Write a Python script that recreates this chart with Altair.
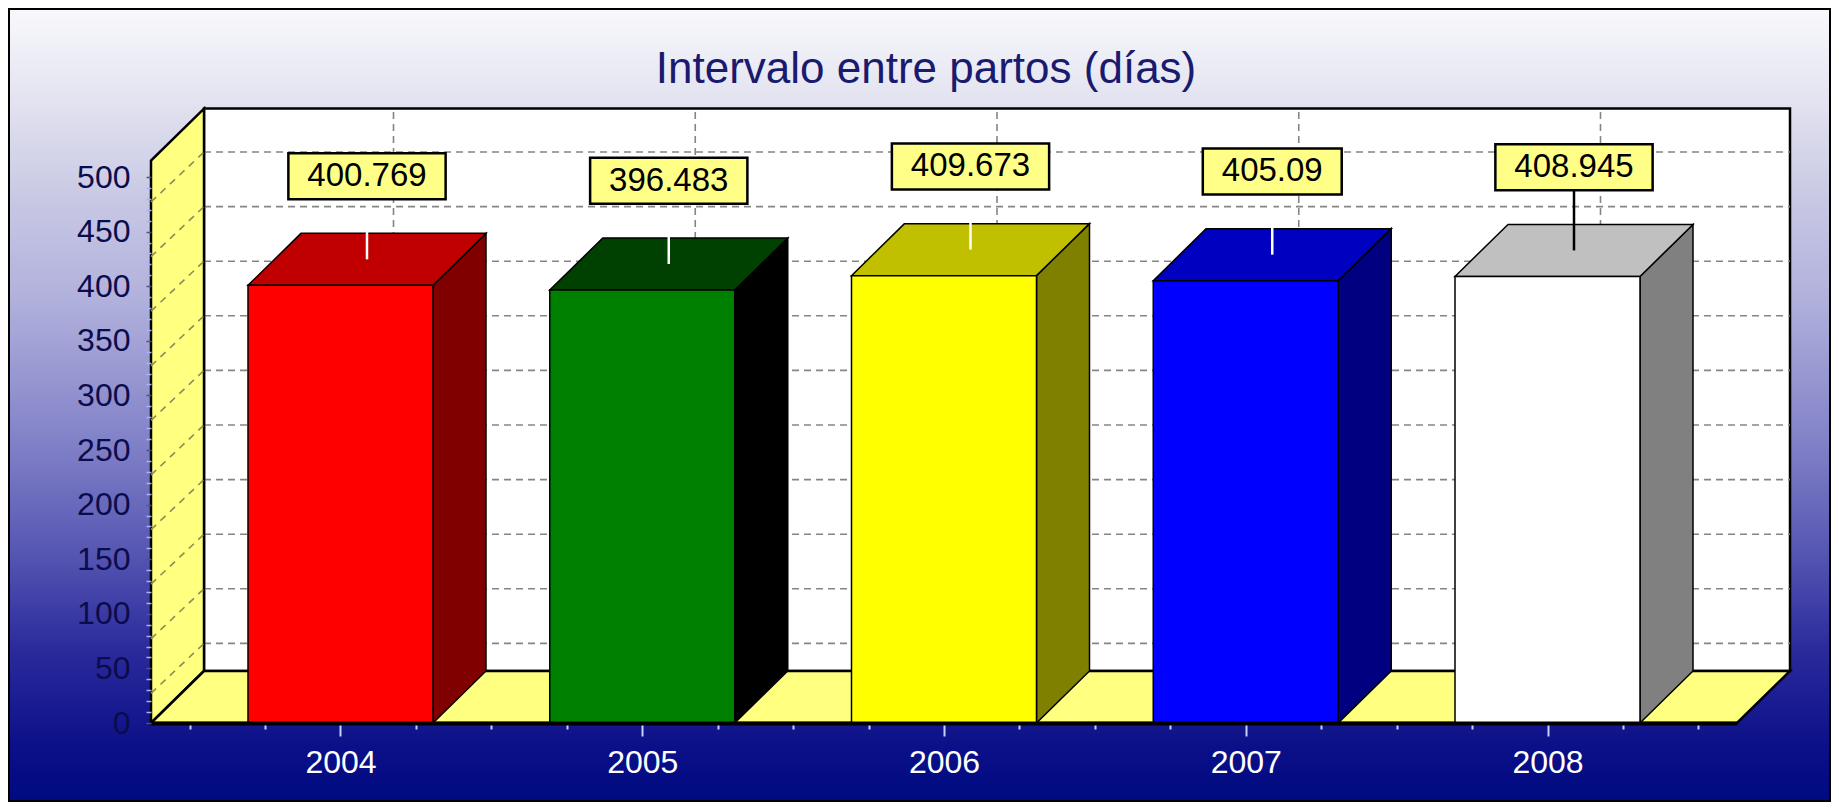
import json
import altair as alt
import pandas as pd

# ---------------- data ----------------
years = ["2004", "2005", "2006", "2007", "2008"]
values = [400.769, 396.483, 409.673, 405.09, 408.945]
front_colors = ["#ff0000", "#008000", "#ffff00", "#0000ff", "#ffffff"]
top_colors = ["#c00000", "#004000", "#c0c000", "#0000c0", "#c0c0c0"]
side_colors = ["#800000", "#000000", "#808000", "#000080", "#808080"]
leader_colors = ["#ffffff", "#ffffff", "#ffffff", "#ffffff", "#000000"]
y_ticks = [0, 50, 100, 150, 200, 250, 300, 350, 400, 450, 500]
title_text = "Intervalo entre partos (días)"

# ---------------- layout / style constants ----------------
FONT = "Liberation Sans"
SVG_W, SVG_H = 1823, 794
PAD_L, PAD_T = 143, 169
STEP = 301.75                      # px per category
UL, UR = -0.628, len(years) - 1 + 0.628
W = round((UR - UL) * STEP)
YMAX = 500
H = 546
PX_Y = H / YMAX
PAD_R = SVG_W - PAD_L - W
PAD_B = SVG_H - PAD_T - H
HW = 92.5 / STEP                   # half bar width (x units)
DU = 53 / STEP                     # depth, x units
DV = 52 / PX_Y                     # depth, y units
WT = 515                           # wall top
GRID_SHIFT = 25 / PX_Y
LABEL_RISE = 100
BOX_HALF_H = 23 / PX_Y
FS_LBL = 33

df = pd.DataFrame({"year": years, "value": values})
df["idx"] = list(range(len(years)))
one = pd.DataFrame({"k": [0]})
two = pd.DataFrame({"k": [0, 1]})
grid_df = pd.DataFrame({"v": y_ticks[1:]})

xs = alt.Scale(domain=[UL, UR], nice=False, zero=False)
ys = alt.Scale(domain=[0, YMAX], nice=False, zero=False)

n = len(years)
x_tick_vals = [i / 4 - 0.5 for i in range(4 * n + 1)]
is_int = "abs(datum.value - round(datum.value)) < 0.01"
x_axis = alt.Axis(
    values=x_tick_vals,
    labelExpr=f"{is_int} ? {json.dumps(years)}[round(datum.value)] : ''",
    title=None, grid=False, domain=True, domainColor="black", domainWidth=4,
    ticks=True, tickColor="#c8d0ff", tickWidth=2,
    tickSize={"condition": {"test": is_int, "value": 13}, "value": 6},
    labelColor="white", labelFontSize=32, labelFont=FONT, labelPadding=26,
    labelBaseline="middle", labelOverlap=False, labelFlush=False, labelBound=False,
    zindex=1,
)
y_axis = alt.Axis(
    values=list(range(0, YMAX + 1, 10)),
    labelExpr="datum.value % 50 === 0 ? datum.label : ''",
    title=None, grid=False, domain=False,
    tickColor={"condition": {"test": "datum.value % 50 === 0", "value": "#50508a"}, "value": "#a8b0ff"},
    tickSize=5, tickWidth=1.5,
    labelColor="#0c0c4c", labelFontSize=32, labelFont=FONT, labelPadding=16,
    labelOverlap=False, labelFlush=False, labelBound=False, zindex=1,
)


def qx(f):
    return alt.X(f"{f}:Q", scale=xs, axis=x_axis, stack=None)


def qy(f):
    return alt.Y(f"{f}:Q", scale=ys, axis=y_axis, stack=None)


def cscale(rng):
    return alt.Color("year:N", scale=alt.Scale(domain=years, range=rng), legend=None)


gradient = alt.LinearGradient(
    gradient="linear", x1=0, x2=0, y1=0, y2=1,
    stops=[
        alt.GradientStop(offset=0.0, color="#f8f8fc"),
        alt.GradientStop(offset=0.10, color="#e6e6f2"),
        alt.GradientStop(offset=0.24, color="#c8c8e4"),
        alt.GradientStop(offset=0.37, color="#b0b0dc"),
        alt.GradientStop(offset=0.55, color="#8080c8"),
        alt.GradientStop(offset=0.68, color="#5858b4"),
        alt.GradientStop(offset=0.81, color="#2a2a9c"),
        alt.GradientStop(offset=0.93, color="#0c1088"),
        alt.GradientStop(offset=1.0, color="#000a80"),
    ],
)

bg = alt.Chart(one).mark_rect(fill=gradient, stroke="black", strokeWidth=2, opacity=1).encode(
    x=alt.value(-PAD_L + 1), x2=alt.value(SVG_W - PAD_L - 1),
    y=alt.value(-PAD_T + 1), y2=alt.value(SVG_H - PAD_T - 1),
)

back_wall = alt.Chart(one).transform_calculate(
    x0=f"{UL + DU}", x1=f"{UR + DU}", y0=f"{DV}", y1=f"{WT + DV}"
).mark_rect(fill="white", stroke="black", strokeWidth=2.5, opacity=1).encode(
    x=qx("x0"), x2="x1:Q", y=qy("y0"), y2="y1:Q"
)

hgrid = alt.Chart(grid_df).transform_calculate(
    w=f"datum.v + {GRID_SHIFT}", xa=f"{UL + DU}", xb=f"{UR + DU}"
).mark_rule(stroke="#858585", strokeDash=[7, 5], strokeWidth=1.6).encode(
    x=qx("xa"), x2="xb:Q", y=qy("w")
)

vgrid = alt.Chart(df).transform_calculate(
    gx=f"datum.idx + {DU}", gy0=f"{DV}", gy1=f"{WT + DV}"
).mark_rule(stroke="#858585", strokeDash=[7, 5], strokeWidth=1.6).encode(
    x=qx("gx"), y=qy("gy0"), y2="gy1:Q"
)

left_wall = alt.Chart(two).transform_calculate(
    wx=f"{UL} + datum.k * {DU}", wy=f"datum.k * {DV}", wy2=f"{WT} + datum.k * {DV}"
).mark_area(orient="vertical", fill="#ffff80", stroke="black", strokeWidth=2.5, opacity=1).encode(
    x=qx("wx"), y=qy("wy"), y2="wy2:Q"
)

wall_dash = alt.Chart(grid_df).transform_calculate(
    xa=f"{UL}", xb=f"{UL + DU}", ya=f"datum.v - {GRID_SHIFT}", yb=f"datum.v + {GRID_SHIFT}"
).mark_rule(stroke="#8c8c55", strokeDash=[7, 6], strokeWidth=1.6).encode(
    x=qx("xa"), x2="xb:Q", y=qy("ya"), y2="yb:Q"
)

floor = alt.Chart(two).transform_calculate(
    fy=f"datum.k * {DV}", fx=f"{UL} + datum.k * {DU}", fx2=f"{UR} + datum.k * {DU}"
).mark_area(orient="horizontal", fill="#ffff80", stroke="black", strokeWidth=2.5, opacity=1).encode(
    y=qy("fy"), x=qx("fx"), x2="fx2:Q"
)

bars_k = alt.Chart(df).transform_calculate(k="[0, 1]").transform_flatten(["k"])

bar_side = bars_k.transform_calculate(
    sx=f"datum.idx + {HW} + datum.k * {DU}",
    sy=f"datum.k * {DV}",
    sy2=f"datum.value + datum.k * {DV}",
).mark_area(orient="vertical", stroke="black", strokeWidth=1.5, opacity=1).encode(
    x=qx("sx"), y=qy("sy"), y2="sy2:Q", color=cscale(side_colors), detail="year:N"
)

bar_top = bars_k.transform_calculate(
    ty=f"datum.value + datum.k * {DV}",
    tx=f"datum.idx - {HW} + datum.k * {DU}",
    tx2=f"datum.idx + {HW} + datum.k * {DU}",
).mark_area(orient="horizontal", stroke="black", strokeWidth=1.5, opacity=1).encode(
    y=qy("ty"), x=qx("tx"), x2="tx2:Q", color=cscale(top_colors), detail="year:N"
)

bar_front = alt.Chart(df).transform_calculate(
    fx0=f"datum.idx - {HW}", fx1=f"datum.idx + {HW}", fy0="0"
).mark_rect(stroke="black", strokeWidth=1.5, opacity=1).encode(
    x=qx("fx0"), x2="fx1:Q", y=qy("fy0"), y2="value:Q",
    color=cscale(front_colors),
)

lab_base = alt.Chart(df).transform_calculate(
    cx=f"datum.idx + {DU / 2}",
    lbl="toString(datum.value)",
    bw=f"((length(datum.lbl) - 1) * {0.556 * FS_LBL} + {0.278 * FS_LBL} + 38) / {STEP}",
    bx0="datum.cx - datum.bw / 2",
    bx1="datum.cx + datum.bw / 2",
    ly=f"datum.value + {LABEL_RISE}",
    by0=f"datum.value + {LABEL_RISE - BOX_HALF_H}",
    by1=f"datum.value + {LABEL_RISE + BOX_HALF_H}",
    lead0=f"datum.value + {DV / 2}",
)

leaders = lab_base.mark_rule(strokeWidth=2.5).encode(
    x=qx("cx"), y=qy("lead0"), y2="by0:Q", color=cscale(leader_colors)
)

boxes = lab_base.mark_rect(fill="#ffff88", stroke="black", strokeWidth=2.5, opacity=1).encode(
    x=qx("bx0"), x2="bx1:Q", y=qy("by0"), y2="by1:Q"
)

texts = lab_base.mark_text(font=FONT, fontSize=FS_LBL, color="black", align="center", baseline="middle").encode(
    x=qx("cx"), y=qy("ly"), text="lbl:N"
)

title = alt.Chart(pd.DataFrame({"t": [title_text]})).mark_text(
    font=FONT, fontSize=44, color="#1a1a6e", align="center", baseline="alphabetic"
).encode(x=alt.value(918 - PAD_L), y=alt.value(75 - PAD_T), text="t:N")

chart = alt.layer(
    bg, back_wall, hgrid, vgrid, left_wall, wall_dash, floor,
    bar_side, bar_top, bar_front, leaders, boxes, texts, title,
).resolve_scale(color="independent").properties(
    width=W, height=H,
    autosize=alt.AutoSizeParams(type="none"),
    padding={"left": PAD_L, "top": PAD_T, "right": PAD_R, "bottom": PAD_B},
).configure_view(strokeWidth=0)

chart.save("out.html", embed_options={"renderer": "svg", "actions": False})
